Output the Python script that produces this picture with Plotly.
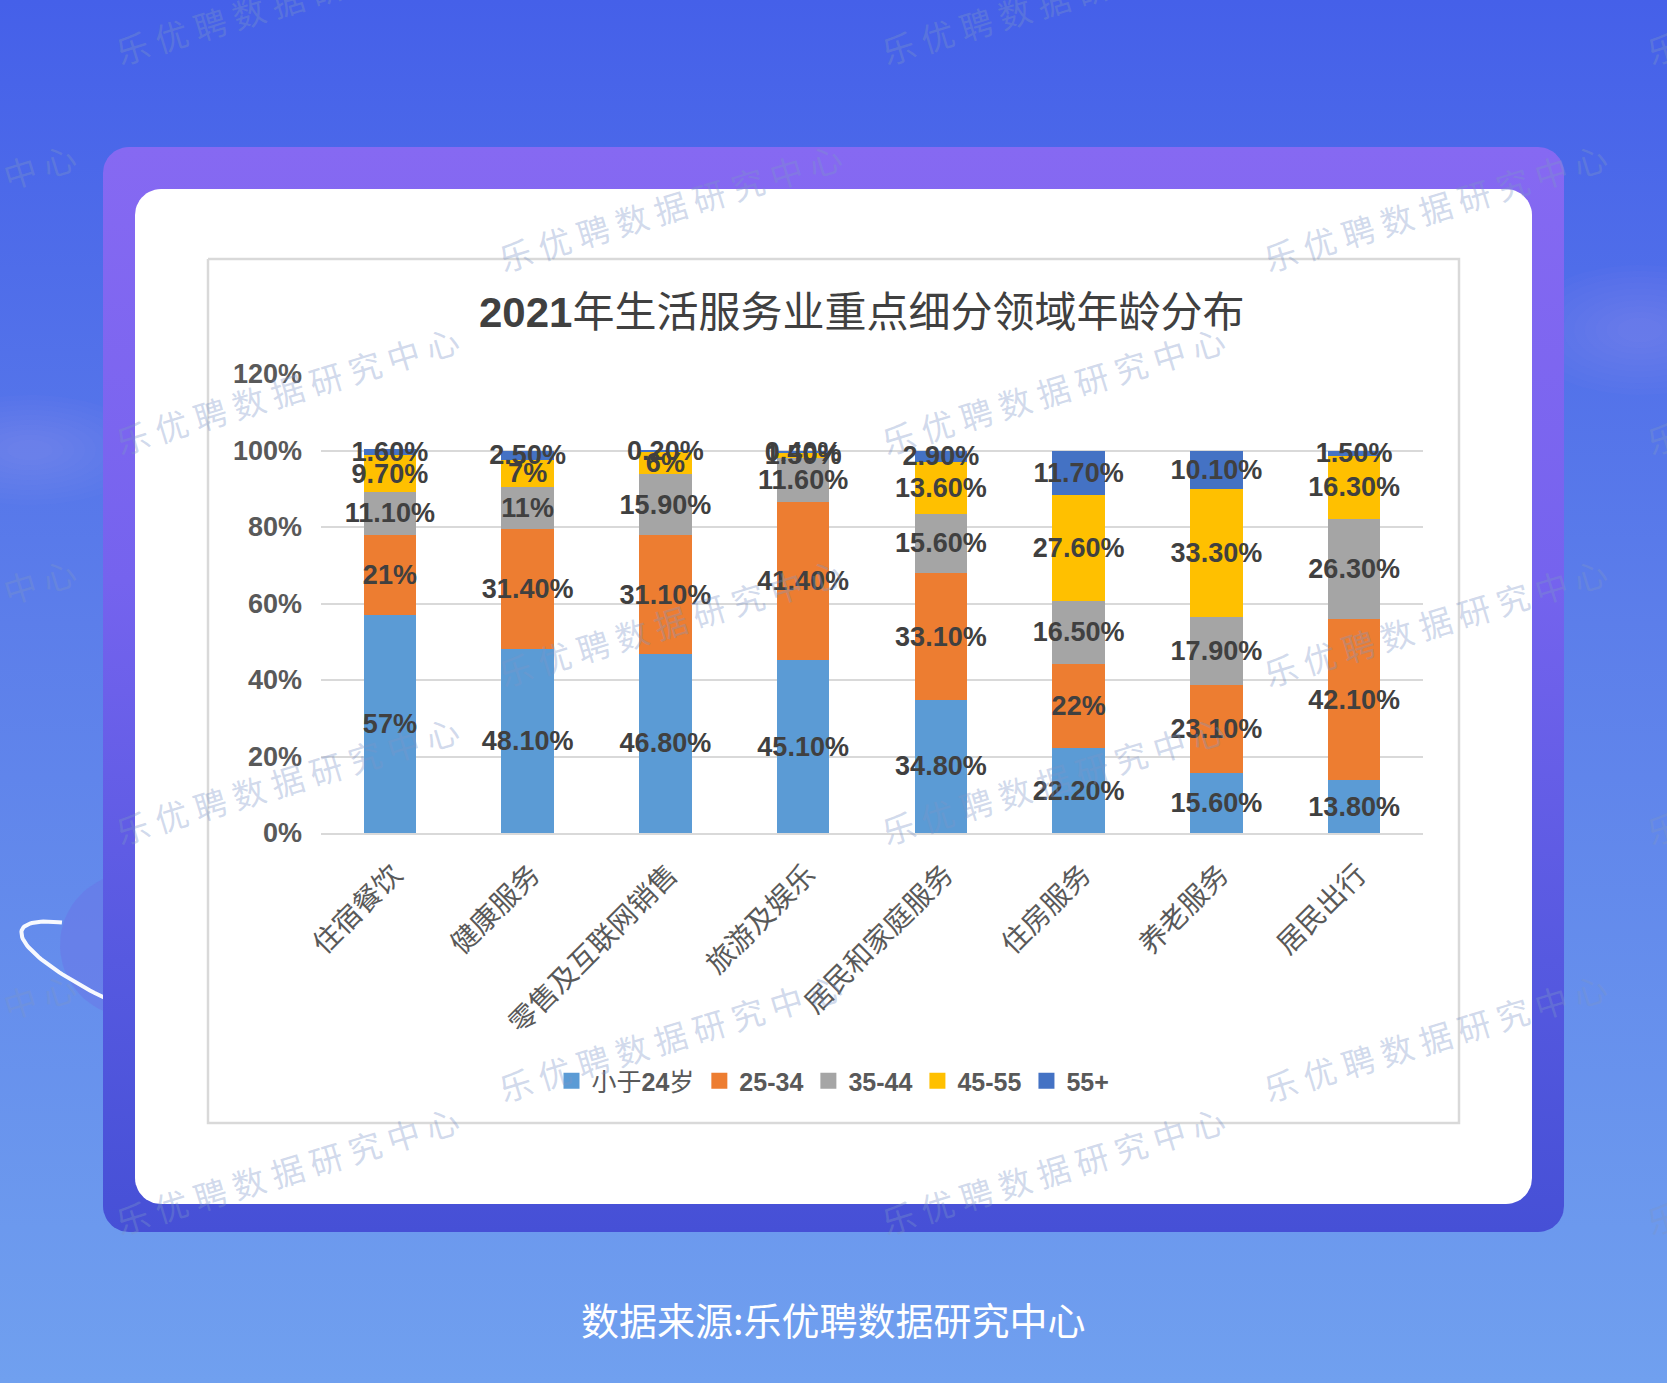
import numpy as np
import plotly.graph_objects as go

W, H = 1667, 1383

categories = ["住宿餐饮", "健康服务", "零售及互联网销售", "旅游及娱乐", "居民和家庭服务", "住房服务", "养老服务", "居民出行"]
series_names = ["小于<b>24</b>岁", "<b>25-34</b>", "<b>35-44</b>", "<b>45-55</b>", "<b>55+</b>"]
under24 = [57, 48.1, 46.8, 45.1, 34.8, 22.2, 15.6, 13.8]
age25_34 = [21, 31.4, 31.1, 41.4, 33.1, 22, 23.1, 42.1]
age35_44 = [11.1, 11, 15.9, 11.6, 15.6, 16.5, 17.9, 26.3]
age45_55 = [9.7, 7, 6, 1.5, 13.6, 27.6, 33.3, 16.3]
age55p = [1.6, 2.5, 0.2, 0.4, 2.9, 11.7, 10.1, 1.5]
series_values = [under24, age25_34, age35_44, age45_55, age55p]
series_colors = ["#5B9BD5", "#ED7D31", "#A5A5A5", "#FFC000", "#4472C4"]
y_ticks = [0, 20, 40, 60, 80, 100, 120]
title_text = "<b>2021</b>年生活服务业重点细分领域年龄分布"
source_text = "数据来源:乐优聘数据研究中心"
watermark = "乐 优 聘 数 据 研 究 中 心"


def fmt(v):
    return f"{int(v)}%" if float(v).is_integer() else f"{v:.2f}%"


def rrect(x0, y0, x1, y1, r, n=14):
    xs, ys = [], []
    corners = [((x0 + r, y0 + r), np.pi, 1.5 * np.pi),
               ((x1 - r, y0 + r), 1.5 * np.pi, 2 * np.pi),
               ((x1 - r, y1 - r), 0, 0.5 * np.pi),
               ((x0 + r, y1 - r), 0.5 * np.pi, np.pi)]
    for (cx, cy), a0, a1 in corners:
        a = np.linspace(a0, a1, n)
        xs += list(cx + r * np.cos(a))
        ys += list(cy + r * np.sin(a))
    xs.append(xs[0]); ys.append(ys[0])
    return xs, ys


def deco(x, y, **kw):
    return go.Scatter(x=list(x), y=list(y), mode="lines", hoverinfo="skip", showlegend=False,
                      xaxis="x", yaxis="y", **kw)


fig = go.Figure()

# ---- decoration (pixel-space subplot x/y) ----
bx, by = rrect(-5, -5, W + 5, H + 5, 1)
fig.add_trace(deco(bx, by, line=dict(width=0), fill="toself",
                   fillgradient=dict(type="vertical", start=0, stop=H,
                                     colorscale=[[0, "#4560e9"], [0.45, "#5c7eea"], [1, "#70a0ef"]])))
# soft glows
t = np.linspace(0, 2 * np.pi, 80)
for (gx, gy, rx, ry) in [(30, 450, 120, 55), (1640, 330, 120, 65)]:
    for k in range(10):
        f = 1 - k * 0.09
        fig.add_trace(deco(gx + rx * f * np.cos(t), gy + ry * f * np.sin(t), line=dict(width=0),
                           fill="toself", fillcolor="rgba(200,190,255,0.025)"))
# planet
fig.add_trace(deco(132 + 72 * np.cos(t), 945 + 72 * np.sin(t), line=dict(width=0), fill="toself",
                   fillcolor="rgba(110,105,230,0.35)"))
th = np.deg2rad(22)
tt = np.linspace(np.pi * 0.55, np.pi * 1.22, 60)
ex = 161 + 150 * np.cos(tt) * np.cos(th) - 34 * np.sin(tt) * np.sin(th)
ey = 986 + 150 * np.cos(tt) * np.sin(th) + 34 * np.sin(tt) * np.cos(th)
fig.add_trace(deco(ex, ey, line=dict(width=4, color="rgba(255,255,255,0.95)")))
# purple card
px_, py_ = rrect(103, 147, 1564, 1232, 26)
fig.add_trace(deco(px_, py_, line=dict(width=0), fill="toself",
                   fillgradient=dict(type="vertical", start=147, stop=1232,
                                     colorscale=[[0, "#8669f2"], [0.4, "#7563ee"], [0.75, "#5659e0"], [1, "#4650d6"]])))
# white card
wx, wy = rrect(135, 189, 1532, 1204, 26)
fig.add_trace(deco(wx, wy, line=dict(width=0), fill="toself", fillcolor="white"))
# chart border
fig.add_trace(deco([208, 1459, 1459, 208, 208], [259, 259, 1123, 1123, 259],
                   line=dict(width=2.5, color="#d9d9d9")))

# ---- bars ----
for i, (name, vals, col) in enumerate(zip(series_names, series_values, series_colors)):
    fig.add_trace(go.Bar(
        x=categories, y=vals, name=name, marker=dict(color=col, line=dict(width=0)),
        text=[fmt(v) for v in vals], textposition="inside", insidetextanchor="middle",
        textangle=0, constraintext="none", showlegend=False, legendgroup=f"g{i}",
        textfont=dict(family="Liberation Sans, Arial", size=27, color="#404040", weight=700),
        hoverinfo="skip", xaxis="x2", yaxis="y2"))
# legend entries (square swatches)
for i, (name, col) in enumerate(zip(series_names, series_colors)):
    fig.add_trace(go.Scatter(x=[None], y=[None], mode="markers", name=name, legendgroup=f"g{i}",
                             marker=dict(symbol="square", size=16, color=col),
                             xaxis="x2", yaxis="y2", hoverinfo="skip"))

annotations = [
    dict(text=title_text, x=861 / W, y=1 - 312 / H, xref="paper", yref="paper", showarrow=False,
         xanchor="center", yanchor="middle",
         font=dict(family="Liberation Sans, Noto Sans CJK SC", size=42, color="#404040")),
    dict(text=source_text, x=833 / W, y=1 - 1318 / H, xref="paper", yref="paper", showarrow=False,
         xanchor="center", yanchor="middle",
         font=dict(family="Noto Sans CJK SC", size=38, color="white")),
]
wm_centers = []
for yy in [0, 390, 780, 1170]:
    for xx in [287, 1053, 1818]:
        wm_centers.append((xx, yy))
for yy in [207, 622, 1037, 1452]:
    for xx in [-96, 670, 1435]:
        wm_centers.append((xx, yy))
for (xx, yy) in wm_centers:
    annotations.append(dict(text=watermark, x=xx / W, y=1 - yy / H, xref="paper", yref="paper",
                            showarrow=False, textangle=-17, xanchor="center", yanchor="middle",
                            font=dict(family="Noto Sans CJK SC", size=33, color="rgba(125,150,200,0.36)")))

fig.update_layout(
    width=W, height=H, margin=dict(l=0, r=0, t=0, b=0, pad=0, autoexpand=False),
    paper_bgcolor="#5a7be9", plot_bgcolor="rgba(0,0,0,0)",
    barmode="stack", bargap=0.62, showlegend=True,
    xaxis=dict(domain=[0, 1], range=[0, W], visible=False, fixedrange=True, automargin=False),
    yaxis=dict(domain=[0, 1], range=[H, 0], visible=False, fixedrange=True, automargin=False),
    xaxis2=dict(domain=[321 / W, 1423 / W], anchor="y2", type="category", tickangle=-45,
                categoryorder="array", categoryarray=categories,
                showline=True, linecolor="#d9d9d9", linewidth=2, showgrid=False, automargin=False,
                tickfont=dict(family="Noto Sans CJK SC", size=28, color="#595959"),
                ticklabelstandoff=12, ticklabelshift=4),
    yaxis2=dict(domain=[1 - 833 / H, 1 - 374 / H], anchor="x2", range=[0, 120], tickvals=y_ticks,
                ticktext=[f"{v}%" for v in y_ticks], showgrid=True, gridcolor="#d9d9d9", gridwidth=2,
                zeroline=False, showline=False, ticklabelstandoff=18, automargin=False,
                tickfont=dict(family="Liberation Sans, Arial", size=27, color="#595959", weight=700)),
    legend=dict(orientation="h", x=833 / W, y=1 - 1081 / H, xanchor="center", yanchor="middle",
                font=dict(family="Liberation Sans, Noto Sans CJK SC", size=25, color="#595959"),
                bgcolor="rgba(0,0,0,0)", traceorder="normal", itemclick=False, itemdoubleclick=False),
    annotations=annotations,
)

fig.write_html("out.html")
